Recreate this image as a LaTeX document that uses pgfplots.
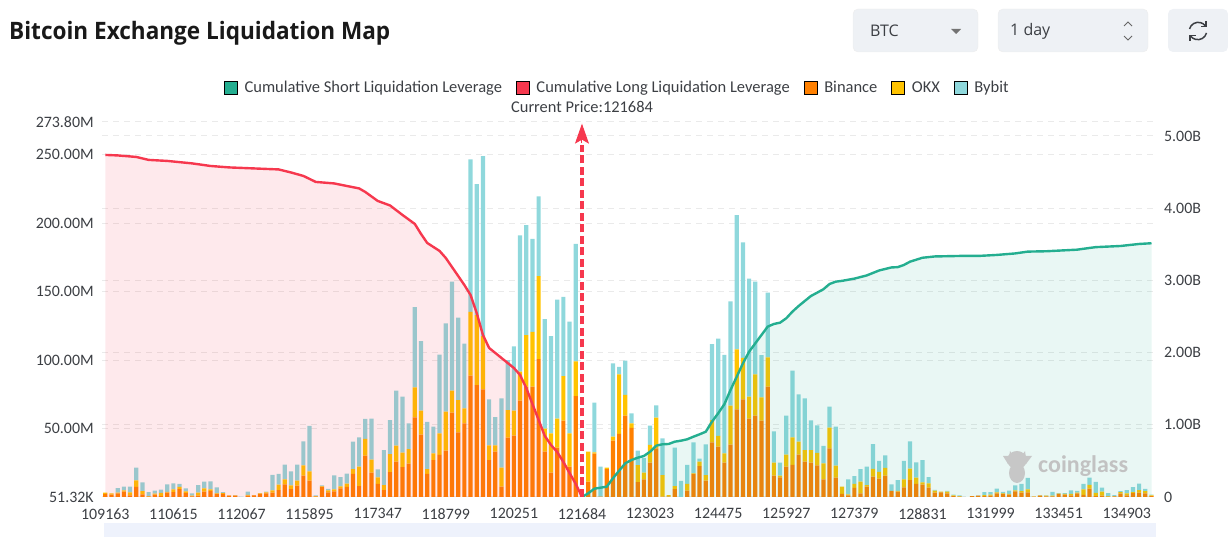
\documentclass[border=0pt]{standalone}
\usepackage{fontspec}
\usepackage{graphicx}
\usepackage{pgfplots}
\usepackage{pgfplotstable}
\pgfplotsset{compat=1.18}
\usetikzlibrary{arrows.meta}
\setmainfont{Open Sans}
\newfontfamily\din{Carlito}
\definecolor{shortc}{HTML}{24AE90}
\definecolor{longc}{HTML}{F6384E}
\definecolor{binance}{HTML}{FF8000}
\definecolor{okx}{HTML}{FFC300}
\definecolor{bybit}{HTML}{8FD8DC}
\definecolor{gridc}{HTML}{EAEAEA}
\definecolor{txt}{HTML}{3C3F44}
\definecolor{btn}{HTML}{EEF1F5}
\definecolor{band}{HTML}{EEF2FC}

% values in million USD per price bucket
\pgfplotstableread{
k b o y
0 2.2 1.0 0
1 1.7 1.0 0
2 2.7 0.5 3.2
3 3.9 1.0 2.7
4 1.2 2.2 4.1
5 7.3 4.9 9.2
6 1.9 2.4 6.3
7 0.2 0.5 2.9
8 1.7 0.7 2.2
9 0.7 2.4 2.2
10 3.2 0.5 5.6
11 3.6 1.9 4.4
12 5.8 1.5 2.2
13 2.9 1.2 2.2
14 0.5 0.5 1.7
15 1.0 2.2 5.4
16 3.9 2.4 4.9
17 4.4 1.2 5.8
18 2.2 0.5 4.4
19 2.2 0.7 0.7
20 1.0 0.2 0
21 1.0 0.2 0.2
22 0 0 0.2
23 1.0 0.5 2.4
24 1.2 0.2 0
25 2.2 0.5 0.2
26 2.7 0.7 0.5
27 3.2 1.7 11.2
28 5.1 3.9 7.8
29 9.2 3.6 10.9
30 5.8 2.7 10.2
31 8.3 3.6 11.7
32 15.6 7.5 17.5
33 11.9 6.8 33.3
34 0.2 0.5 0.5
35 7.3 0.5 0.7
36 3.4 1.5 1.0
37 4.1 1.5 10.2
38 6.3 1.5 6.8
39 7.3 2.4 7.3
40 16.8 3.6 20.0
41 8.0 14.1 21.4
42 30.2 12.2 14.6
43 17.8 9.5 29.9
44 9.5 4.9 5.8
45 5.1 3.6 25.5
46 18.2 13.1 24.8
47 25.8 11.7 40.1
48 21.9 10.5 40.9
49 24.3 10.7 18.7
50 58.1 21.9 58.6
51 45.5 17.5 50.8
52 16.8 3.6 34.5
53 27.0 4.9 19.5
54 30.7 15.8 57.4
55 33.8 28.5 64.5
56 61.6 16.1 79.6
57 47.2 23.6 60.1
58 53.8 10.9 47.2
59 88.6 46.5 111.4
60 81.7 51.1 95.6
61 78.6 38.9 131.4
62 27.0 10.7 33.6
63 33.1 4.6 20.7
64 7.5 13.9 50.6
65 43.3 20.2 36.5
66 44.8 18.2 47.0
67 70.3 21.2 99.5
68 80.5 37.7 80.3
69 80.5 40.1 67.9
70 100.7 60.6 58.1
71 33.1 16.8 80.0
72 17.8 28.7 71.0
73 36.0 21.2 86.9
74 55.7 32.6 57.9
75 22.1 24.3 81.7
76 73.7 25.3 85.9
77 0 0 0
78 11.2 21.9 0
79 31.6 1.0 36.3
80 0.2 0 21.9
81 20.4 1.0 0
82 41.1 2.9 53.5
83 46.0 43.6 5.4
84 59.4 15.1 25.1
85 50.4 3.4 7.3
86 10.9 12.4 10.5
87 12.9 4.9 10.5
88 25.1 12.9 14.1
89 35.5 22.4 9.0
90 0.2 15.8 26.8
91 0.2 1.2 0
92 5.8 2.2 28.0
93 0 0 11.7
94 4.6 4.9 13.9
95 16.8 0.5 22.6
96 22.6 3.2 2.2
97 11.9 4.1 22.4
98 39.9 16.3 55.5
99 36.7 8.0 71.0
100 25.1 6.8 71.8
101 38.2 28.5 76.2
102 64.0 43.8 98.0
103 71.3 30.2 84.4
104 57.2 16.1 86.1
105 59.4 30.2 67.6
106 55.7 17.0 30.9
107 80.5 21.4 47.4
108 15.6 9.5 22.9
109 14.4 1.2 9.5
110 22.1 8.8 28.5
111 23.4 20.2 48.7
112 30.9 9.5 34.5
113 25.8 8.5 37.7
114 25.1 9.2 21.7
115 23.1 9.2 20.0
116 12.9 11.7 12.7
117 35.5 15.1 15.3
118 14.1 8.8 28.5
119 2.2 5.4 0
120 1.2 0.7 10.9
121 6.6 2.9 5.8
122 2.7 8.5 9.2
123 7.5 1.2 13.4
124 14.8 5.8 18.0
125 13.4 4.9 8.0
126 15.6 5.6 9.2
127 4.4 0 4.9
128 3.9 0.5 8.0
129 7.1 5.8 13.4
130 12.4 8.3 20.0
131 9.5 4.6 11.1
132 9.0 1.7 16.3
133 6.8 3.2 4.6
134 3.2 1.5 0.5
135 3.4 0.5 0
136 2.7 1.2 0.5
137 0.7 0.5 0.5
138 0.2 0.5 0.5
139 0 0 0
140 0.7 0 0
141 1.0 0 0.2
142 0.7 0.7 2.2
143 1.0 0.7 1.9
144 2.7 0.7 2.7
145 2.2 0.5 1.0
146 1.7 0.5 2.4
147 4.1 0.7 3.6
148 3.2 1.0 5.4
149 3.4 2.2 8.3
150 0.2 0.2 0
151 1.0 0.2 0.2
152 0.5 0.5 0.2
153 0.5 0.5 2.7
154 2.2 0.2 0.5
155 1.7 0.5 0.7
156 1.2 1.0 2.7
157 2.7 0.5 1.2
158 1.5 4.1 3.9
159 6.1 2.7 5.4
160 0.7 2.4 8.0
161 1.0 2.9 2.9
162 0.2 0.5 2.2
163 0.5 0.2 0.7
164 2.4 1.2 0.7
165 1.2 1.5 2.4
166 2.9 0.7 3.6
167 3.2 1.9 4.6
168 2.7 1.5 1.7
169 0.7 0.5 0.5
}\bars

% cumulative leverage in billion USD
\pgfplotstableread{
k v
0 4.737
2 4.73
5 4.709
7 4.668
10 4.654
14 4.62
17 4.584
20 4.564
24 4.55
28 4.536
30 4.494
32 4.446
34 4.363
37 4.342
39 4.307
41 4.273
42 4.224
44 4.10
46 4.037
48 3.906
50 3.781
51 3.643
52 3.518
54 3.407
55 3.31
57 3.061
58 2.936
59 2.798
60 2.548
61 2.244
62 2.064
64 1.925
66 1.787
67 1.69
68 1.51
70 1.066
71 0.845
72 0.72
73 0.623
74 0.485
75 0.332
76 0.18
77 0
}\longcum

\pgfplotstableread{
k v
77 0
78 0.05
79 0.115
80 0.129
81 0.143
82 0.259
83 0.364
84 0.467
85 0.512
86 0.544
87 0.568
88 0.627
89 0.711
90 0.73
91 0.734
92 0.766
93 0.78
94 0.799
95 0.835
96 0.868
97 0.904
98 1.043
99 1.159
100 1.284
101 1.482
102 1.666
103 1.851
104 2.012
105 2.128
106 2.244
107 2.359
108 2.396
109 2.414
110 2.475
111 2.567
112 2.645
113 2.715
114 2.784
115 2.83
116 2.877
117 2.95
118 2.982
119 2.993
121 3.024
123 3.068
125 3.137
127 3.179
128 3.183
129 3.213
130 3.259
132 3.313
134 3.331
138 3.338
141 3.338
144 3.352
147 3.373
149 3.398
152 3.403
157 3.425
159 3.449
160 3.46
164 3.476
167 3.504
169 3.514
}\shortcum

\pgfplotsset{
  base/.style={
    scale only axis, width=1052.4pt, height=375pt,
    at={(102.2pt,40pt)}, anchor=south west,
    xmin=-0.5, xmax=169.5,
    axis line style={draw=none},
    major tick length=0pt,
    tick label style={font=\din\fontsize{15.9}{16}\selectfont, text=txt},
  },
}

\begin{document}
\begin{tikzpicture}
\useasboundingbox (0,0) rectangle (1228pt,537pt);

\begin{scope}[x=1pt,y=-1pt,yshift=537pt]
  \node[anchor=west,inner sep=0,font=\bfseries\fontsize{24}{24}\selectfont,text=black!90] at (9,33) {\scalebox{0.94}[1]{Bitcoin Exchange Liquidation Map}};
  \fill[btn,draw=black!7,rounded corners=5pt] (853,9) rectangle (978,52);
  \fill[btn,draw=black!7,rounded corners=5pt] (998,9) rectangle (1148,52);
  \fill[btn,rounded corners=5pt] (1168,9) rectangle (1228,52);
  \node[anchor=west,inner sep=0,text=txt,font=\fontsize{16}{16}\selectfont] at (870,31) {BTC};
  \node[anchor=west,inner sep=0,text=txt,font=\fontsize{16}{16}\selectfont] at (1010,31) {1 day};
  \fill[black!55] (951,29) -- (961,29) -- (956,34) -- cycle;
  \draw[black!60,line width=1pt] (1124,26) -- (1128,22) -- (1132,26) (1124,36) -- (1128,40) -- (1132,36);
  \fill[band] (104,523) rectangle (1156,537);
\end{scope}
% refresh icon
\draw[txt,line width=1.5pt] (1189.5pt,508pt) arc (165:40:9pt);
\draw[txt,line width=1.5pt] (1206.5pt,504pt) arc (345:220:9pt);
\draw[txt,line width=1.3pt] (1206pt,516pt) -- (1206pt,510.5pt) -- (1200.5pt,510.5pt);
\draw[txt,line width=1.3pt] (1190pt,496pt) -- (1190pt,501.5pt) -- (1195.5pt,501.5pt);

% bars, left axis (million)
\begin{axis}[base,
  ybar stacked, bar width=4.2pt,
  ymin=0, ymax=273.8,
  ytick={0.05132,50,100,150,200,250,273.8},
  yticklabels={51.32K,50.00M,100.00M,150.00M,200.00M,250.00M,273.80M},
  extra y ticks={52.72,105.44,158.16,210.88,263.6},
  extra y tick labels={},
  ymajorgrids,
  grid style={gridc,line width=1pt,dash pattern=on 6pt off 5pt},
  xtick={0,11,...,165},
  xticklabels={109163,110615,112067,115895,117347,118799,120251,121684,123023,124475,125927,127379,128831,131999,133451,134903},
  x tick label style={yshift=-8pt},
  y tick label style={xshift=-5pt},
]
  \addplot[fill=binance,draw=none] table[x=k,y=b] {\bars};
  \addplot[fill=okx,draw=none] table[x=k,y=o] {\bars};
  \addplot[fill=bybit,draw=none] table[x=k,y=y] {\bars};
\end{axis}

% cumulative lines, right axis (billion)
\begin{axis}[base,
  ymin=0, ymax=5.193,
  axis y line*=right, axis x line=none,
  ytick={0,1,2,3,4,5},
  yticklabels={0,1.00B,2.00B,3.00B,4.00B,5.00B},
  y tick label style={xshift=6pt},
  legend columns=5,
  legend cell align=left,
  legend image code/.code={\fill[#1] (0pt,-6.5pt) rectangle (13pt,6.5pt);},
  legend style={at={(0.1157,1.0907)},anchor=west,draw=none,fill=none,inner sep=0pt,
    font=\din\fontsize{16.5}{16.5}\selectfont,text=txt,
    /tikz/every even column/.append style={column sep=11pt},
    /tikz/every odd column/.append style={column sep=4pt},
    nodes={inner xsep=3pt,inner ysep=0pt}},
]
  \addlegendimage{fill=shortc}\addlegendentry{Cumulative Short Liquidation Leverage}
  \addlegendimage{fill=longc}\addlegendentry{Cumulative Long Liquidation Leverage}
  \addlegendimage{fill=binance}\addlegendentry{Binance}
  \addlegendimage{fill=okx}\addlegendentry{OKX}
  \addlegendimage{fill=bybit}\addlegendentry{Bybit}

  \addplot[fill=longc,fill opacity=0.11,draw=none,forget plot] table[x=k,y=v] {\longcum} \closedcycle;
  \addplot[fill=shortc,fill opacity=0.10,draw=none,forget plot] table[x=k,y=v] {\shortcum} \closedcycle;
  \addplot[longc,line width=2.4pt,line join=round,forget plot] table[x=k,y=v] {\longcum};
  \addplot[shortc,line width=2.4pt,line join=round,forget plot] table[x=k,y=v] {\shortcum};
  % current price marker
  \addplot[longc,line width=3.2pt,dash pattern=on 8pt off 3.5pt,forget plot] coordinates {(77,0) (77,4.88)};
  \addplot[longc,line width=1pt,-{Stealth[length=20pt,width=14pt,inset=4pt]},forget plot] coordinates {(77,4.9) (77,5.17)};
\end{axis}

\begin{scope}[x=1pt,y=-1pt,yshift=537pt]
  \node[inner sep=0,text=txt,font=\din\fontsize{16.4}{16.4}\selectfont] at (582,107) {Current Price:121684};
  % watermark
  \fill[black!22] (1017,460) ellipse (10 and 9);
  \fill[black!22] (1017,473) ellipse (8 and 10);
  \fill[black!22] (1003,456) -- (1032,456) -- (1026,464) -- (1008,464) -- cycle;
  \fill[black!22] (1010,451) -- (1012,454) -- (1023,454) -- (1025,451) -- (1026,458) -- (1009,458) -- cycle;
  \node[anchor=west,inner sep=0,text=black!24,font=\din\bfseries\fontsize{24}{24}\selectfont] at (1038,466) {coinglass};
\end{scope}
\end{tikzpicture}
\end{document}
